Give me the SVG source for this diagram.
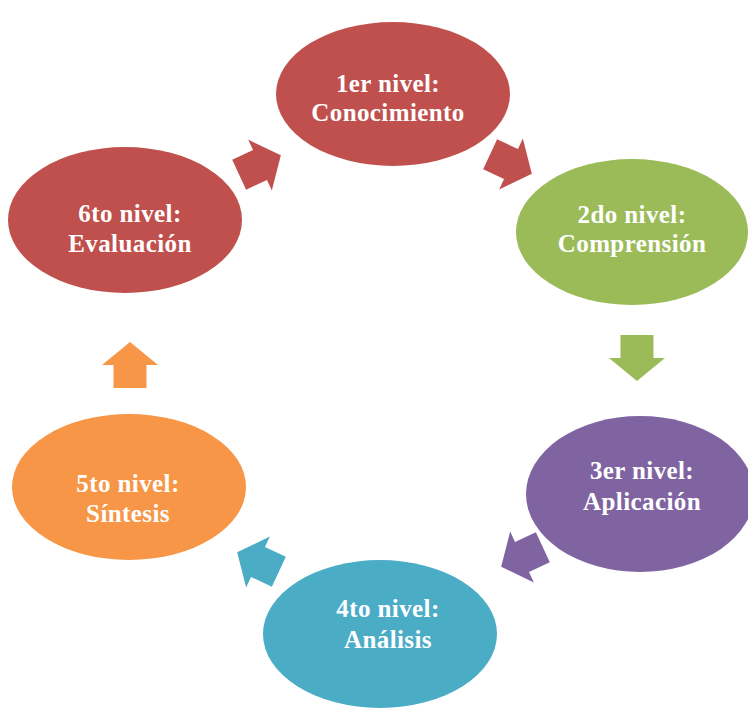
<svg xmlns="http://www.w3.org/2000/svg" width="748" height="708" viewBox="0 0 748 708">
<style>
.t{font-family:"Liberation Serif","Times New Roman",serif;font-weight:bold;font-size:25px;fill:#fff;text-anchor:middle;letter-spacing:0.4px}
</style>
<defs>
<polygon id="arr" points="-23,-16.5 0,-16.5 0,-28 23,0 0,28 0,16.5 -23,16.5"/>
</defs>
<rect width="748" height="708" fill="#fff"/>
<g id="connectors">
<use href="#arr" fill="#C0504D" transform="translate(260,165) rotate(-25)"/>
<use href="#arr" fill="#C0504D" transform="translate(511,164) rotate(25)"/>
<use href="#arr" fill="#9BBB59" transform="translate(637,358) rotate(90)"/>
<use href="#arr" fill="#8064A2" transform="translate(522,557) rotate(155)"/>
<use href="#arr" fill="#4BACC6" transform="translate(258,562) rotate(205)"/>
<use href="#arr" fill="#F79646" transform="translate(130,365) rotate(270)"/>
</g>
<g id="n1"><ellipse cx="393" cy="94" rx="117" ry="72" fill="#C0504D"/><text class="t" x="388" y="92">1er nivel:</text><text class="t" x="388" y="121">Conocimiento</text></g>
<g id="n2"><ellipse cx="632" cy="232" rx="116" ry="73" fill="#9BBB59"/><text class="t" x="632" y="223">2do nivel:</text><text class="t" x="632" y="252">Comprensión</text></g>
<g id="n3"><ellipse cx="640" cy="494" rx="114" ry="78" fill="#8064A2"/><text class="t" x="642" y="479">3er nivel:</text><text class="t" x="642" y="510">Aplicación</text></g>
<g id="n4"><ellipse cx="380" cy="634" rx="117" ry="74" fill="#4BACC6"/><text class="t" x="388" y="617">4to nivel:</text><text class="t" x="388" y="648">Análisis</text></g>
<g id="n5"><ellipse cx="129" cy="487" rx="117" ry="73" fill="#F79646"/><text class="t" x="128" y="492">5to nivel:</text><text class="t" x="128" y="522">Síntesis</text></g>
<g id="n6"><ellipse cx="125" cy="220" rx="117" ry="73" fill="#C0504D"/><text class="t" x="130" y="222">6to nivel:</text><text class="t" x="130" y="252">Evaluación</text></g>
</svg>
